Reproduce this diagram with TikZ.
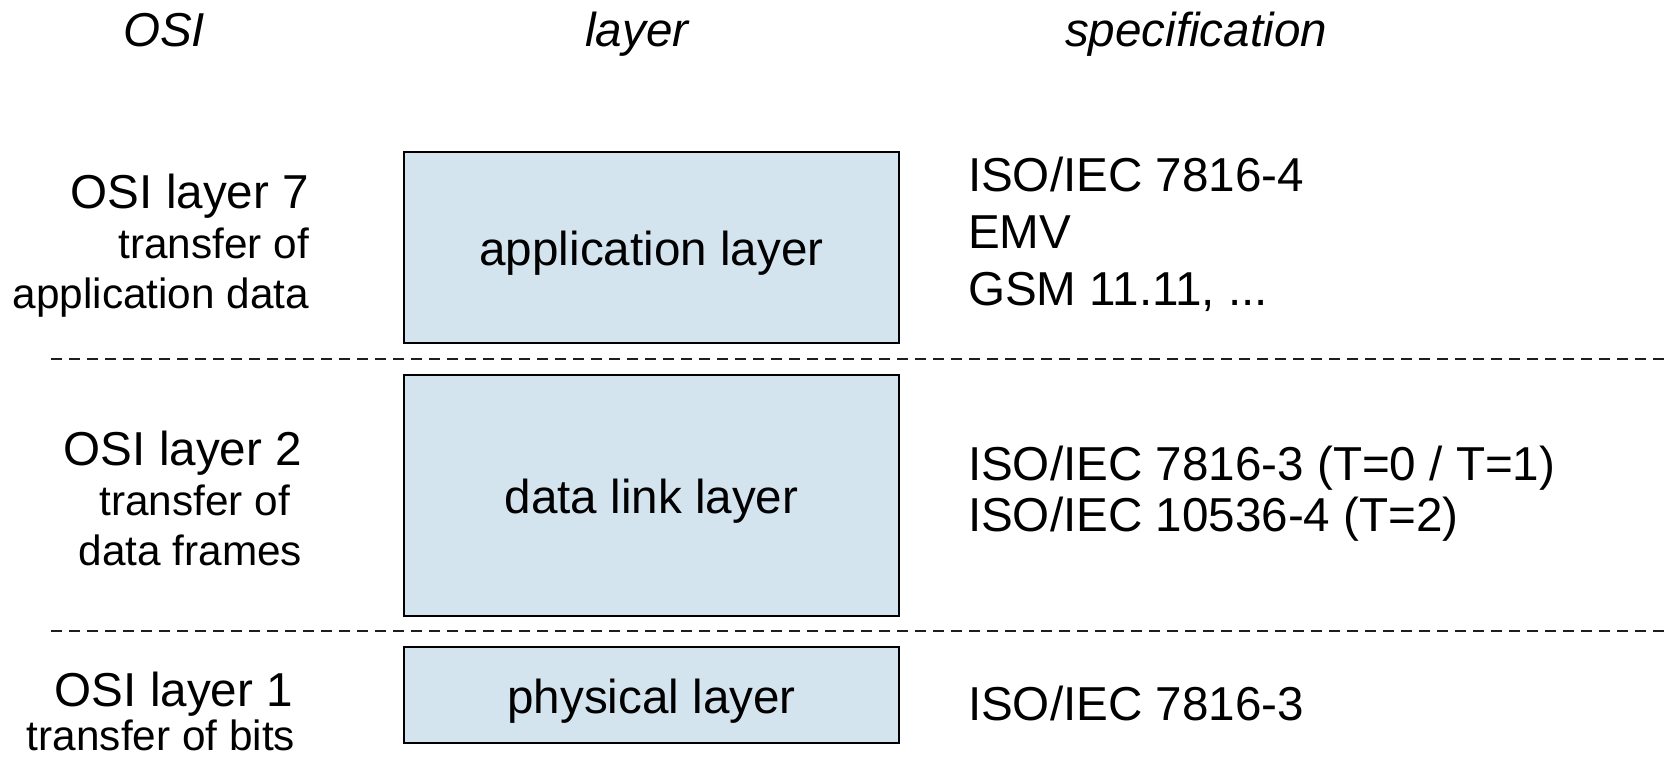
\documentclass[tikz,border=0pt]{standalone}
\usepackage{fontspec}
\setmainfont{Liberation Sans}
\definecolor{layerfill}{RGB}{212,228,239}
\definecolor{sepgray}{RGB}{30,30,30}
\begin{document}
\begin{tikzpicture}[x=1pt,y=-1pt,
  big/.style={font=\fontsize{47.6}{57}\selectfont, inner sep=0pt, outer sep=0pt},
  small/.style={font=\fontsize{42.3}{51}\selectfont, inner sep=0pt, outer sep=0pt},
  head/.style={font=\fontsize{47.6}{57}\selectfont\itshape, inner sep=0pt, outer sep=0pt},
  layerbox/.style={draw=black, line width=2pt, fill=layerfill, inner sep=0pt, anchor=north west},
  sep/.style={draw=sepgray, line width=2pt, dash pattern=on 11pt off 7pt}]
\useasboundingbox (0,0) rectangle (1671,757);

% column headings
\node[head, anchor=base] (hosi) at (164,47) {OSI};
\node[head, anchor=base] (hlayer) at (637,47) {layer};
\node[head, anchor=base] (hspec) at (1196,47) {specification};

% layer boxes
\node[layerbox, minimum width=495pt, minimum height=191pt] (app) at (403,151) {};
\node[layerbox, minimum width=495pt, minimum height=241pt] (dll) at (403,374) {};
\node[layerbox, minimum width=495pt, minimum height=96pt] (phy) at (403,646) {};
\node[big, anchor=base] (applbl) at ([yshift=-18pt]app.center) {application layer};
\node[big, anchor=base] (dlllbl) at ([yshift=-18pt]dll.center) {data link layer};
\node[big, anchor=base] (phylbl) at ([yshift=-18pt]phy.center) {physical layer};

% separators between the layers
\coordinate (s1w) at (51,359);  \coordinate (s1e) at (1671,359);
\coordinate (s2w) at (51,631);  \coordinate (s2e) at (1671,631);
\draw[sep] (s1w) -- (s1e);
\draw[sep] (s2w) -- (s2e);

% OSI layer descriptions
\node[big, anchor=base east] (o7a) at (309,208) {OSI layer 7};
\node[small, anchor=base east] (o7b) at (309,258) {transfer of};
\node[small, anchor=base east] (o7c) at (309,308) {application data};

\node[big, anchor=base east] (o2a) at (302,465) {OSI layer 2};
\node[small, anchor=base east] (o2b) at (290,515) {transfer of};
\node[small, anchor=base east] (o2c) at (302,565) {data frames};

\node[big, anchor=base east] (o1a) at (293,706) {OSI layer 1};
\node[small, anchor=base east] (o1b) at (295,750) {transfer of bits};

% specifications
\node[big, anchor=base west] (s7a) at (968,192) {ISO/IEC 7816-4};
\node[big, anchor=base west] (s7b) at (968,248) {EMV};
\node[big, anchor=base west] (s7c) at (968,305) {GSM 11.11, ...};

\node[big, anchor=base west] (s2a) at (968,480) {ISO/IEC 7816-3 (T=0 / T=1)};
\node[big, anchor=base west] (s2b) at (968,531) {ISO/IEC 10536-4 (T=2)};

\node[big, anchor=base west] (s1a) at (968,720) {ISO/IEC 7816-3};
\end{tikzpicture}
\end{document}
